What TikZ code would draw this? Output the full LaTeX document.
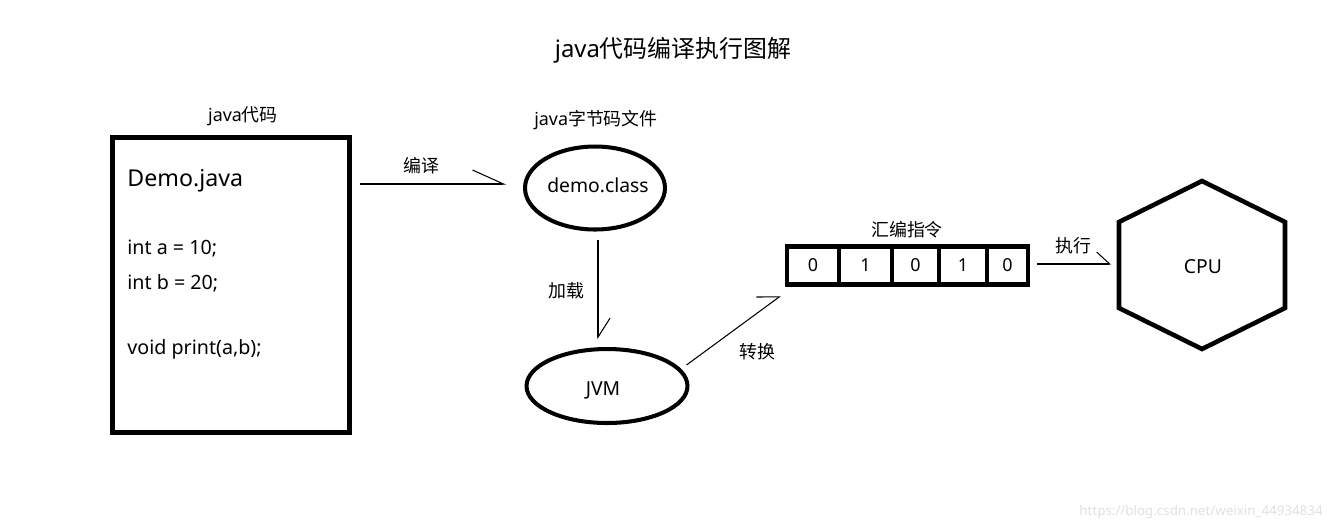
\documentclass[tikz,border=0pt]{standalone}
\usepackage{fontspec}
\setmainfont{Noto Sans}
\newfontfamily\cjk{Noto Sans CJK SC}
\usetikzlibrary{arrows.meta,shapes.geometric}
\tikzset{font=\fontsize{10.2}{12}\selectfont}
\tikzstyle{frame}=[draw,line width=2.8pt,inner sep=0pt]
\tikzstyle{oval}=[ellipse,draw,line width=2.3pt,inner sep=0pt]
\tikzstyle{cell}=[draw,line width=2.8pt,inner sep=0pt,minimum height=0.76cm]
\tikzstyle{lbl}=[inner sep=0pt]
\tikzstyle{inlbl}=[inner sep=0pt,font=\fontsize{11}{13}\selectfont]
\tikzstyle{zh}=[inner sep=0pt,font=\cjk\fontsize{10.2}{12}\selectfont]
\tikzstyle{code}=[inner sep=0pt,anchor=base west,font=\fontsize{11.2}{13}\selectfont]
\tikzstyle{flow}=[line width=0.6pt]

\begin{document}
\begin{tikzpicture}[x=0.02cm,y=-0.02cm]
\useasboundingbox (0,0) rectangle (1332,529);
\node[lbl,font=\fontsize{13.6}{16}\selectfont] (title) at (673,50) {java{\cjk 代码编译执行图解}};
% source file
\node[frame,minimum width=4.74cm,minimum height=5.9cm] (src) at (231,285) {};
\node[lbl] (srclbl) at (243,116) {java{\cjk 代码}};
\node[code,font=\fontsize{13.2}{15}\selectfont] (demo) at (127,186) {Demo.java};
\node[code] (la) at (127,254) {int a = 10;};
\node[code] (lb) at (127,289) {int b = 20;};
\node[code] (lc) at (127,354) {void print(a,b);};
% byte code and jvm
\node[oval,minimum width=2.8cm,minimum height=1.66cm] (class) at (595,188) {};
\node[inlbl] (classtxt) at (598,185) {demo.class};
\node[lbl] (classlbl) at (596,120) {java{\cjk 字节码文件}};
\node[oval,minimum width=3.22cm,minimum height=1.48cm] (jvm) at (607,386) {};
\node[inlbl] (jvmtxt) at (603,390) {JVM};
% instructions
\foreach \x/\w/\d/\n in {813/1.04/0/c1,865.5/1.06/1/c2,915.5/0.94/0/c3,963/0.96/1/c4,1007.5/0.82/0/c5}
  \node[cell,minimum width=\w cm] (\n) at (\x,265.5) {\d};
\node[zh] (asmlbl) at (907,230) {汇编指令};
% cpu
\coordinate (hn) at (1202,181);
\coordinate (hne) at (1285,222);
\coordinate (hse) at (1285,308);
\coordinate (hs) at (1202,349);
\coordinate (hsw) at (1119,308);
\coordinate (hnw) at (1119,222);
\coordinate (hw) at (1119,264);
\draw[line width=2.6pt] (hn) -- (hne) -- (hse) -- (hs) -- (hsw) -- (hnw) -- cycle;
\node[inlbl] (cpu) at (1203,267) {CPU};
% arrows
\draw[flow,shorten <=0.16cm,shorten >=0.34cm,-{Straight Barb[harpoon,length=0.62cm,width=0.56cm]}]
  ([yshift=0.08cm]src.east |- class.west) -- ([yshift=0.08cm]class.west);
\node[zh] (cmp) at (421,166) {编译};
\draw[flow,shorten <=0.16cm,shorten >=0.16cm,-{Straight Barb[harpoon,length=0.38cm,width=0.48cm]}]
  ([xshift=0.06cm]class.south) -- ([xshift=0.06cm]class.south |- jvm.north);
\node[zh] (load) at (566,291) {加载};
\draw[flow,-{Straight Barb[harpoon,length=0.37cm,width=0.54cm]}]
  ([shift={(-3,-21)}]jvm.east) -- ([shift={(-4,9)}]c1.south west);
\node[zh] (conv) at (757,352) {转换};
\draw[flow,shorten <=0.14cm,shorten >=0.16cm,-{Straight Barb[harpoon,length=0.26cm,width=0.48cm]}]
  ([yshift=0.03cm]c5.east) -- ([yshift=0.03cm]c5.east -| hw);
\node[zh] (run) at (1073,246) {执行};
% watermark
\node[lbl,anchor=east,text=black!12,font=\fontsize{7.6}{10}\selectfont] (mark) at (1323,512) {https://blog.csdn.net/weixin\_44934834};
\end{tikzpicture}
\end{document}
